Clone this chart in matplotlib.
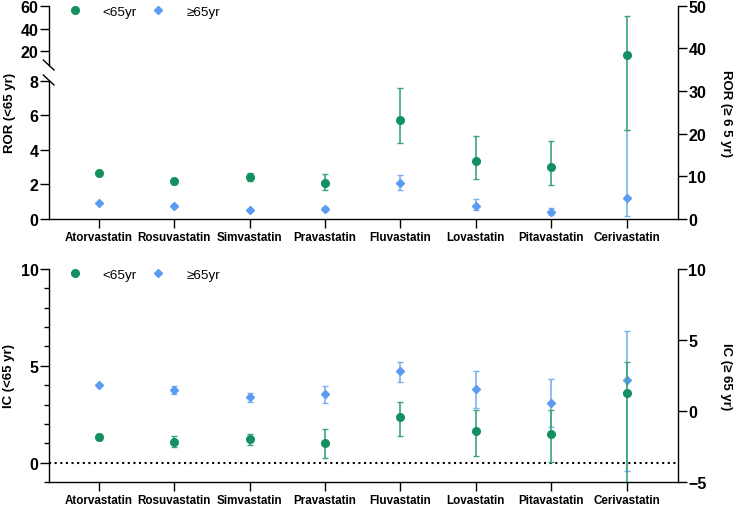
import numpy as np
import matplotlib
matplotlib.use("Agg")
import matplotlib.pyplot as plt
from matplotlib.lines import Line2D

# statins on the x axis
statins = ["Atorvastatin", "Rosuvastatin", "Simvastatin", "Pravastatin",
           "Fluvastatin", "Lovastatin", "Pitavastatin", "Cerivastatin"]

# ROR, <65 yr (left, broken axis)
ror_young = [2.66, 2.20, 2.45, 2.10, 5.74, 3.34, 2.99, 18.4]
ror_young_lo = [2.61, 2.02, 2.22, 1.68, 4.38, 2.31, 1.98, 5.16]
ror_young_hi = [2.71, 2.31, 2.66, 2.60, 7.56, 4.80, 4.51, 51.2]

# ROR, >=65 yr (right axis)
ror_old = [3.82, 3.04, 2.11, 2.41, 8.36, 3.12, 1.71, 4.92]
ror_old_lo = [3.72, 2.85, 1.95, 1.87, 6.79, 2.11, 1.01, 0.63]
ror_old_hi = [3.92, 3.25, 2.30, 2.81, 10.3, 4.68, 2.58, 20.9]

# IC, <65 yr (left axis)
ic_young = [1.32, 1.07, 1.24, 1.02, 2.36, 1.65, 1.49, 3.61]
ic_young_lo = [1.15, 0.79, 0.93, 0.24, 1.36, 0.35, 0.04, -1.5]
ic_young_hi = [1.49, 1.38, 1.49, 1.74, 3.14, 2.73, 2.73, 5.19]

# IC, >=65 yr (right axis)
ic_old = [1.82, 1.47, 0.96, 1.17, 2.83, 1.54, 0.59, 2.19]
ic_old_lo = [1.76, 1.19, 0.66, 0.54, 2.06, 0.20, -1.16, -4.25]
ic_old_hi = [1.88, 1.78, 1.24, 1.78, 3.46, 2.80, 2.22, 5.63]

GREEN = "#13905f"
GREEN_E = "#3aa57c"
BLUE = "#5b9cf2"
BLUE_E = "#7ab0f0"

plt.rcParams["font.family"] = ["Liberation Sans", "DejaVu Sans"]
plt.rcParams["font.weight"] = "bold"
plt.rcParams["axes.linewidth"] = 1.0

# broken left axis of the top panel: piecewise linear mapping
BRK_V = [-100, 0, 8, 20, 60, 200]
BRK_H = [-1729.0, 0, 138.3, 167.7, 213.3, 213.3 + 140 * 1.14]


def brk_fwd(v):
    return np.interp(v, BRK_V, BRK_H)


def brk_inv(h):
    return np.interp(h, BRK_H, BRK_V)


W, H = 733, 506
fig = plt.figure(figsize=(W / 100, H / 100), dpi=100)

x = np.arange(len(statins))


def err(v, lo, hi):
    v, lo, hi = map(np.asarray, (v, lo, hi))
    return [v - lo, hi - v]


def style_axes(ax, ax2):
    ax.set_zorder(ax2.get_zorder() + 1)
    ax.patch.set_visible(False)
    ax.spines["top"].set_visible(False)
    ax.spines["right"].set_visible(False)
    for s in ["top", "left", "bottom"]:
        ax2.spines[s].set_visible(False)
    ax.set_xlim(-0.66, 7.68)
    ax.set_xticks(x)
    ax.set_xticklabels(statins, fontsize=8.4, fontweight="bold")
    ax.tick_params(axis="x", direction="out", length=6.5, width=1, pad=2.5)
    ax.tick_params(axis="y", direction="out", length=6.5, width=1,
                   labelsize=11.5, pad=1)
    ax2.tick_params(axis="y", direction="out", length=6.5, width=1,
                    labelsize=11.5, pad=1)


def add_legend(ax, y):
    handles = [
        Line2D([], [], ls="none", marker="o", ms=5.5, color=GREEN),
        Line2D([], [], ls="none", marker="D", ms=3.8, color=BLUE),
    ]
    ax.legend(handles, ["<65yr", "≥65yr"], loc="upper left",
              bbox_to_anchor=(0.005, y), ncol=2, frameon=False,
              prop={"weight": "normal", "size": 9.7},
              handlelength=1.6, handletextpad=1.25, columnspacing=0.8)


# ---------------- top panel: ROR ----------------
ax = fig.add_axes([49 / W, 1 - 220 / H, 629 / W, 213.3 / H])
ax2 = ax.twinx()
ax.set_yscale("function", functions=(brk_fwd, brk_inv))

ax2.errorbar(x, ror_old, yerr=err(ror_old, ror_old_lo, ror_old_hi),
             fmt="D", ms=3.8, color=BLUE, ecolor=BLUE_E, elinewidth=1.2,
             capsize=2.5, capthick=1.0)
ax.errorbar(x, ror_young, yerr=err(ror_young, ror_young_lo, ror_young_hi),
            fmt="o", ms=5.5, color=GREEN, ecolor=GREEN_E, elinewidth=1.2,
            capsize=2.5, capthick=1.0)

ax.set_ylim(0, 60)
ax.set_yticks([0, 2, 4, 6, 8, 20, 40, 60])
ax.set_yticklabels(["0", "2", "4", "6", "8", "20", "40", "60"])
ax.yaxis.set_minor_locator(matplotlib.ticker.NullLocator())
ax2.set_ylim(0, 50)
ax2.set_yticks([0, 10, 20, 30, 40, 50])
style_axes(ax, ax2)

# broken left spine
ax.spines["left"].set_bounds(0, 8)
ax.plot([0, 0], [14.4, 60], transform=ax.get_yaxis_transform(),
        color="black", lw=1.0, clip_on=False)
for y0 in (61, 76):
    fig.add_artist(Line2D([43.3 / W, 54 / W], [1 - y0 / H, 1 - (y0 + 10) / H],
                          color="black", lw=1.0))

ax.set_ylabel("ROR (<65 yr)", fontsize=9.5, fontweight="bold")
ax.yaxis.set_label_coords(-0.052, 0.5)
ax2.set_ylabel("ROR (≥ 6 5 yr)", fontsize=9.5, fontweight="bold",
               rotation=270, va="bottom")
ax2.yaxis.set_label_coords(1.066, 0.5)
add_legend(ax, 1.059)

# ---------------- bottom panel: IC ----------------
bx = fig.add_axes([49 / W, 1 - 483 / H, 629 / W, 213 / H])
bx2 = bx.twinx()

bx2.errorbar(x, ic_old, yerr=err(ic_old, ic_old_lo, ic_old_hi),
             fmt="D", ms=3.8, color=BLUE, ecolor=BLUE_E, elinewidth=1.2,
             capsize=2.5, capthick=1.0)
bx.errorbar(x, ic_young, yerr=err(ic_young, ic_young_lo, ic_young_hi),
            fmt="o", ms=5.5, color=GREEN, ecolor=GREEN_E, elinewidth=1.2,
            capsize=2.5, capthick=1.0)
bx.axhline(0, color="black", lw=1.5, ls=(0, (1, 1.7)), zorder=0)

bx.set_ylim(-1, 10)
bx.set_yticks([0, 5, 10])
bx.yaxis.set_minor_locator(matplotlib.ticker.MultipleLocator(1))
bx.tick_params(axis="y", which="minor", direction="out", length=3.5, width=1)
bx2.set_ylim(-5, 10)
bx2.set_yticks([-5, 0, 5, 10])
style_axes(bx, bx2)

bx.set_ylabel("IC (<65 yr)", fontsize=9.5, fontweight="bold")
bx.yaxis.set_label_coords(-0.054, 0.5)
bx2.set_ylabel("IC (≥ 65 yr)", fontsize=9.5, fontweight="bold",
               rotation=270, va="bottom")
bx2.yaxis.set_label_coords(1.066, 0.5)
add_legend(bx, 1.059)

fig.savefig("out.png", dpi=100)
